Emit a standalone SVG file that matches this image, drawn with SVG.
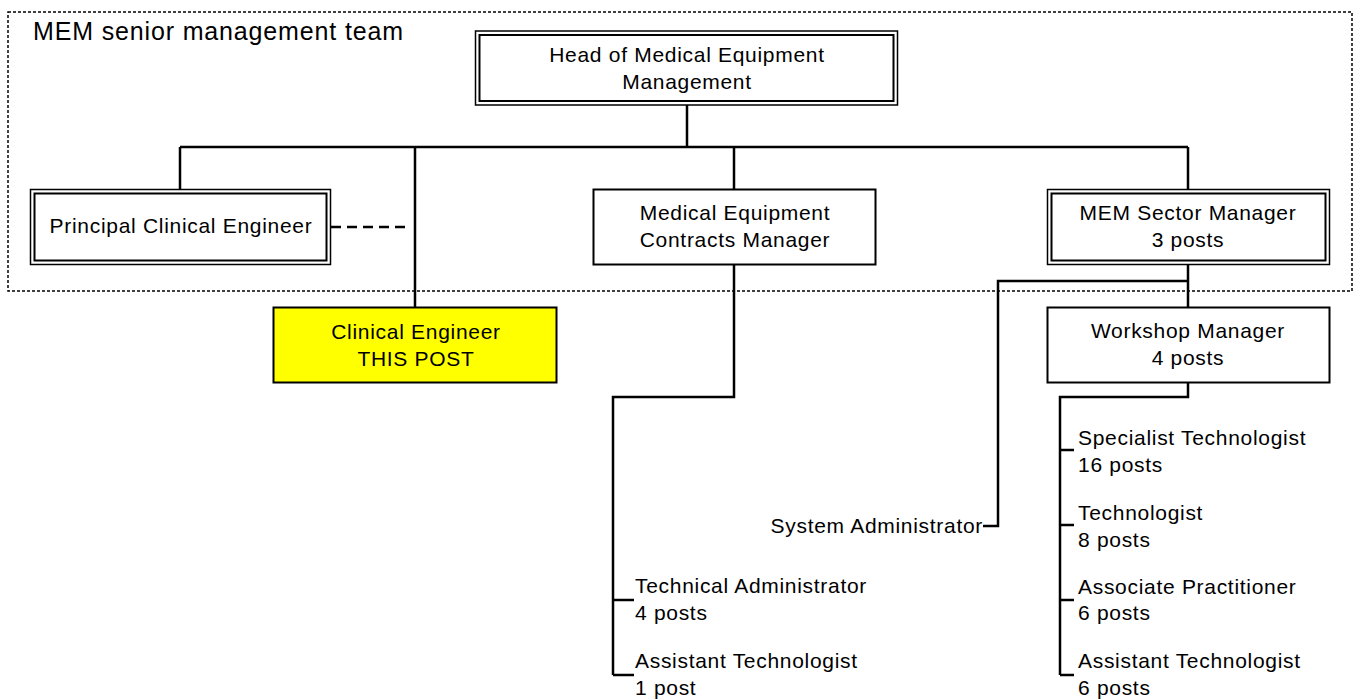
<svg xmlns="http://www.w3.org/2000/svg" width="1358" height="699" viewBox="0 0 1358 699">
<style>
text{font-family:"Liberation Sans",Arial,sans-serif;font-size:21px;letter-spacing:0.7px;fill:#000}
.c{text-anchor:middle}
.e{text-anchor:end}
.box{fill:#fff;stroke:#000;stroke-width:2}
.outer{fill:#fff;stroke:#000;stroke-width:1.5}
.inner{fill:none;stroke:#000;stroke-width:2}
.ln{fill:none;stroke:#000;stroke-width:2.5}
</style>
<rect width="1358" height="699" fill="#fff"/>
<g id="team">
<rect x="8" y="12" width="1344" height="279" fill="none" stroke="#000" stroke-width="1.5" stroke-dasharray="3,2"/>
<text x="33" y="40" style="font-size:25px;letter-spacing:0.85px">MEM senior management team</text>
</g>
<g id="connectors">
<path class="ln" d="M687 105V147M180 147H1188M180 147V190M415 147V308M734 147V190M1188 147V190"/>
<path class="ln" d="M331 227H410" stroke-dasharray="10,6"/>
<path class="ln" d="M734 264V397H613V675M613 600H634M613 675H634"/>
<path class="ln" d="M1188 264V308M1188 281H998V526H983"/>
<path class="ln" d="M1188 382V397H1060V675M1060 450H1074M1060 525H1074M1060 600H1074M1060 675H1074"/>
</g>
<g id="head">
<rect class="outer" x="475.5" y="31" width="422" height="74"/>
<rect class="inner" x="479.5" y="35" width="414" height="66"/>
<text class="c" x="687" y="62">Head of Medical Equipment</text>
<text class="c" x="687" y="89">Management</text>
</g>
<g id="pce">
<rect class="outer" x="30.5" y="189.5" width="300" height="75"/>
<rect class="inner" x="34.5" y="193.5" width="292" height="67"/>
<text class="c" x="181" y="233">Principal Clinical Engineer</text>
</g>
<g id="contracts">
<rect class="box" x="593.5" y="189.5" width="282" height="75"/>
<text class="c" x="735" y="220">Medical Equipment</text>
<text class="c" x="735" y="247">Contracts Manager</text>
</g>
<g id="sector">
<rect class="outer" x="1047.5" y="189.5" width="282" height="75"/>
<rect class="inner" x="1051.5" y="193.5" width="274" height="67"/>
<text class="c" x="1188" y="220">MEM Sector Manager</text>
<text class="c" x="1188" y="247">3 posts</text>
</g>
<g id="clinical">
<rect class="box" x="273.5" y="307.5" width="283" height="75" style="fill:#ffff00"/>
<text class="c" x="416" y="339">Clinical Engineer</text>
<text class="c" x="416" y="366">THIS POST</text>
</g>
<g id="workshop">
<rect class="box" x="1047.5" y="307.5" width="282" height="75"/>
<text class="c" x="1188" y="338">Workshop Manager</text>
<text class="c" x="1188" y="365">4 posts</text>
</g>
<g id="sysadmin"><text class="e" x="983" y="533">System Administrator</text></g>
<g id="techadmin"><text x="635" y="593">Technical Administrator</text><text x="635" y="620">4 posts</text></g>
<g id="asstech1"><text x="635" y="668">Assistant Technologist</text><text x="635" y="695">1 post</text></g>
<g id="spectech"><text x="1078" y="445">Specialist Technologist</text><text x="1078" y="472">16 posts</text></g>
<g id="tech"><text x="1078" y="520">Technologist</text><text x="1078" y="547">8 posts</text></g>
<g id="assoc"><text x="1078" y="594">Associate Practitioner</text><text x="1078" y="620">6 posts</text></g>
<g id="asstech2"><text x="1078" y="668">Assistant Technologist</text><text x="1078" y="695">6 posts</text></g>
</svg>
